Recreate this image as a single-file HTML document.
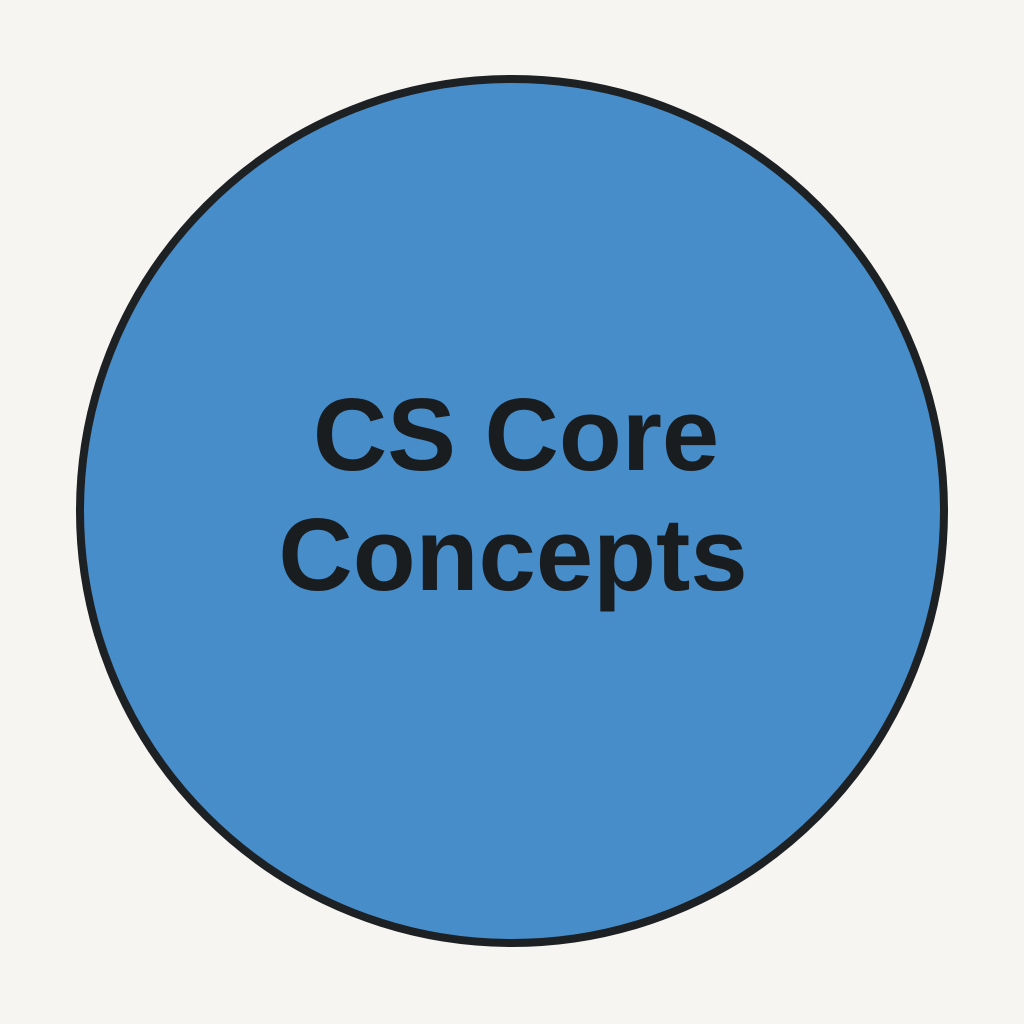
<!DOCTYPE html>
<html>
<head>
<meta charset="utf-8">
<style>
  html, body { margin: 0; padding: 0; background: #f7f5f2; }
  svg { display: block; }
</style>
</head>
<body>
<svg width="1024" height="1024" viewBox="0 0 1024 1024">
  <rect x="0" y="0" width="1024" height="1024" fill="#f7f5f2"/>
  <circle cx="512" cy="511" r="432" fill="#478dc9" stroke="#1e2124" stroke-width="8"/>
  <text x="516" y="470" text-anchor="middle" font-family="Liberation Sans, sans-serif" font-weight="bold" font-size="103" fill="#1a1d20">CS Core</text>
  <text x="513" y="590" text-anchor="middle" font-family="Liberation Sans, sans-serif" font-weight="bold" font-size="103" fill="#1a1d20">Concepts</text>
</svg>
</body>
</html>
